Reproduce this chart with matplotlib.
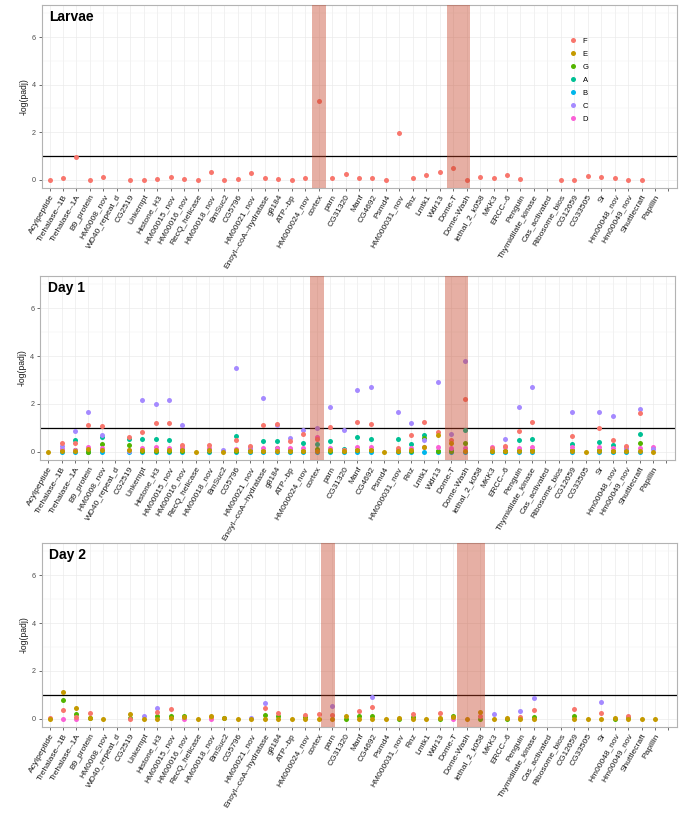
import matplotlib
matplotlib.use('Agg')
import matplotlib.pyplot as plt
from matplotlib.lines import Line2D
import numpy as np

plt.rcParams['font.family'] = ['Liberation Sans', 'DejaVu Sans']

genes = ["Acylpeptide", "Trehalase--1B", "Trehalase--1A", "B9_protein", "HM0008_nov",
         "WD40_repeat_d", "CG2519", "Unkempt", "Histone_H3", "HM00015_nov",
         "HM00016_nov", "RecQ_helicase", "HM00018_nov", "BmSuc2", "CG5796",
         "HM00021_nov", "Enoyl--coA--hydratase", "g8184", "ATP--bp", "HM000024_nov",
         "cortex", "parn", "CG31320", "Manf", "CG4692", "Psmd4", "HM000031_nov",
         "Rnz", "Lmtk1", "Wdr13", "Dome-T", "Dome-Wash", "lethal_2_k058", "MKK3",
         "ERCC--6", "Penguin", "Thymidilate_kinase", "Cas_activated", "Ribosome_bios",
         "CG12659", "CG33505", "Sr", "Hm00048_nov", "Hm00049_nov", "Shuttlecraft",
         "Papillin", ""]

groups = ["F", "E", "G", "A", "B", "C", "D"]
group_colors = ["#F8766D", "#C49A00", "#53B400", "#00C094", "#00B6EB", "#A58AFF", "#FB61D7"]
draw_order = ["B", "A", "G", "D", "C", "F", "E"]

N = None
# ---- Larvae ----
larvae_F = [0.0, 0.08, 0.96, 0.0, 0.1, N, 0.0, 0.0, 0.04, 0.1,
            0.04, 0.0, 0.32, 0.0, 0.03, 0.27, 0.08, 0.04, 0.0, 0.08,
            3.33, 0.07, 0.24, 0.08, 0.08, 0.0, 1.98, 0.06, 0.2, 0.32,
            0.5, 0.0, 0.1, 0.06, 0.18, 0.03, N, N, 0.0, 0.0,
            0.14, 0.13, 0.06, 0.0, 0.0, N]

# ---- Day 1 ----
day1_F = [N, 0.35, 0.38, 1.12, 1.07, N, 0.6, 0.84, 1.19, 1.18,
          0.28, N, 0.26, N, 0.49, 0.25, 1.12, 1.14, 0.45, 0.74,
          0.52, 1.05, 0.05, 1.26, 1.16, N, 0.14, 0.68, 1.26, 0.82,
          0.47, 2.2, N, 0.15, 0.25, 0.85, 1.24, N, N, 0.67,
          N, 1.0, 0.5, 0.22, 1.62, N]
day1_C = [N, 0.22, 0.85, 1.66, 0.69, N, 0.03, 2.18, 1.98, 2.16,
          1.1, N, 0.08, 0.08, 3.5, 0.18, 2.26, 1.12, 0.57, 0.9,
          0.98, 1.86, 0.89, 2.59, 2.69, N, 1.67, 1.19, 0.47, 2.91,
          0.74, 3.81, N, 0.05, 0.52, 1.85, 2.7, N, N, 1.66,
          N, 1.65, 1.49, 0.1, 1.79, 0.1]
day1_A = [N, 0.08, 0.5, 0.02, 0.6, N, 0.52, 0.53, 0.52, 0.49,
          0.1, N, 0.07, N, 0.64, 0.07, 0.43, 0.44, 0.09, 0.37,
          0.33, 0.45, 0.11, 0.61, 0.53, N, 0.53, 0.33, 0.68, 0.02,
          0.05, 0.91, N, 0.02, 0.03, 0.5, 0.54, N, N, 0.32,
          N, 0.4, 0.26, 0.04, 0.73, N]
day1_G = [N, 0.05, 0.06, 0.0, 0.34, N, 0.26, 0.02, 0.02, 0.02,
          0.02, N, 0.02, N, 0.02, 0.02, 0.03, 0.15, 0.02, 0.03,
          0.1, 0.03, 0.03, 0.07, 0.05, N, 0.03, 0.02, 0.57, 0.02,
          0.03, 0.36, N, 0.03, 0.03, 0.05, 0.06, N, N, 0.05,
          N, 0.05, 0.04, 0.08, 0.38, N]
day1_D = [N, 0.12, 0.05, 0.18, 0.15, N, 0.07, 0.17, 0.18, 0.17,
          0.18, N, 0.16, N, 0.1, 0.15, 0.16, 0.17, 0.16, 0.14,
          0.62, 0.16, 0.05, 0.18, 0.18, N, 0.1, 0.15, 0.18, 0.18,
          0.15, 0.15, N, 0.18, 0.18, 0.15, 0.18, N, N, 0.18,
          N, 0.18, 0.15, 0.15, 0.15, 0.18]
day1_B = [N, 0.0, 0.0, 0.0, 0.0, N, 0.0, 0.0, 0.0, 0.0,
          0.0, N, 0.0, N, 0.0, 0.0, 0.0, 0.0, 0.0, 0.0,
          0.0, 0.0, 0.0, 0.0, 0.0, N, 0.0, 0.0, 0.0, 0.0,
          0.0, 0.0, N, 0.0, 0.0, 0.0, 0.0, N, N, 0.0,
          N, 0.0, 0.0, 0.0, 0.0, N]
day1_E = [0.0, 0.03, 0.02, 0.1, 0.07, N, 0.07, 0.05, 0.07, 0.08,
          0.07, 0.0, 0.07, 0.0, 0.07, 0.02, 0.02, 0.02, 0.02, 0.03,
          0.02, 0.07, 0.04, 0.07, 0.07, 0.0, 0.02, 0.07, 0.2, 0.68,
          0.35, 0.02, N, 0.02, 0.02, 0.02, 0.02, N, N, 0.02,
          0.0, 0.02, 0.02, 0.02, 0.02, 0.0]

# ---- Day 2 ----
day2_E = [0.0, 1.13, 0.45, 0.03, 0.0, N, 0.2, 0.0, 0.0, 0.03,
          0.07, 0.0, 0.1, 0.03, 0.0, 0.0, 0.0, 0.0, 0.0, 0.0,
          0.0, 0.0, 0.1, 0.0, 0.0, 0.0, 0.04, 0.0, 0.0, 0.03,
          0.07, 0.0, 0.28, 0.0, 0.03, 0.0, 0.0, N, N, 0.0,
          0.0, 0.0, 0.03, 0.0, 0.0, 0.0]
day2_G = [N, 0.78, 0.18, 0.03, N, N, 0.03, N, 0.1, 0.11,
          0.1, N, N, 0.03, N, N, 0.15, 0.12, N, 0.07,
          N, N, 0.0, 0.1, 0.13, N, 0.0, 0.07, N, 0.0,
          0.11, N, 0.0, N, 0.0, N, 0.05, N, N, 0.11,
          N, N, 0.0, 0.07, N, N]
day2_F = [0.03, 0.38, 0.07, 0.24, N, N, 0.0, N, 0.28, 0.39,
          N, N, 0.07, N, N, N, 0.46, 0.22, N, 0.17,
          0.2, 0.14, N, 0.33, 0.5, N, N, 0.2, N, 0.22,
          N, N, 0.1, N, N, 0.05, 0.36, N, N, 0.4,
          N, 0.24, N, 0.11, N, N]
day2_C = [N, N, N, N, N, N, N, 0.11, 0.43, N,
          N, N, N, N, N, 0.04, 0.67, N, N, N,
          N, 0.52, N, N, 0.91, N, N, N, N, N,
          N, N, N, 0.18, N, 0.33, 0.88, N, N, N,
          N, 0.71, N, N, N, N]
day2_D = [N, 0.0, 0.0, N, N, N, N, N, N, N,
          0.0, N, 0.0, N, N, N, N, N, N, N,
          N, N, N, N, N, N, N, N, N, N,
          0.0, N, N, N, N, N, N, N, N, N,
          N, N, N, N, N, N]

panels = [
    ("Larvae", {"F": larvae_F}),
    ("Day 1", {"F": day1_F, "C": day1_C, "A": day1_A, "G": day1_G,
               "D": day1_D, "B": day1_B, "E": day1_E}),
    ("Day 2", {"E": day2_E, "G": day2_G, "F": day2_F, "C": day2_C, "D": day2_D}),
]
highlights = [
    [(20.48, 21.52), (30.52, 32.27)],
    [(20.48, 21.52), (30.52, 32.27)],
    [(21.18, 22.25), (31.28, 33.36)],
]
# axes rectangles in pixels: left, right, top, bottom
W, H = 682, 816
rects = [(41.5, 676.5, 5, 188), (40, 674.5, 276, 460), (41.5, 676.5, 543, 727)]

color_of = dict(zip(groups, group_colors))

fig = plt.figure(figsize=(W / 100, H / 100), dpi=100)
xs = np.arange(1, len(genes) + 1)
MS = 3.6

for (title, data), hl, (l, r, t, b) in zip(panels, highlights, rects):
    ax = fig.add_axes([l / W, 1 - b / H, (r - l) / W, (b - t) / H])
    ax.set_xlim(0.4, len(genes) + 0.6)
    ax.set_ylim(-0.35, 7.35)
    ax.set_axisbelow(True)
    ax.set_xticks(xs)
    ax.set_xticklabels(genes, rotation=60, ha='right', va='top',
                       rotation_mode='anchor', fontsize=6, color='#1a1a1a')
    ax.set_yticks([0, 2, 4, 6])
    ax.set_yticks([1, 3, 5, 7], minor=True)
    ax.tick_params(axis='y', labelsize=5.2, labelcolor='#4d4d4d', length=2.5,
                   width=0.5, color='#333333', pad=1.5)
    ax.tick_params(axis='y', which='minor', length=0)
    ax.tick_params(axis='x', length=2.5, width=0.5, color='#333333', pad=1.5)
    ax.grid(which='major', color='#ebebeb', lw=0.5)
    ax.grid(which='minor', axis='y', color='#f2f2f2', lw=0.35)
    for sp in ax.spines.values():
        sp.set_color('#b3b3b3')
        sp.set_linewidth(0.8)
    ax.set_ylabel('-log(padj)', fontsize=6.2, color='#1a1a1a', labelpad=2.5)

    ax.axhline(1, color='black', lw=0.9, zorder=2)
    for g in draw_order:
        if g not in data:
            continue
        vals = data[g]
        px = [x for x, v in zip(xs, vals) if v is not None]
        py = [v for v in vals if v is not None]
        ax.plot(px, py, 'o', color=color_of[g], markersize=MS,
                markeredgewidth=0, zorder=3)
    for (x0, x1) in hl:
        ax.axvspan(x0, x1, color='#C44226', alpha=0.42, lw=0, zorder=4)

    ax.text(0.012, 0.972, title, transform=ax.transAxes, fontsize=10,
            fontweight='bold', ha='left', va='top', zorder=5)

    if title == "Larvae":
        handles = [Line2D([], [], marker='o', ls='', color=c, markersize=MS,
                          markeredgewidth=0) for c in group_colors]
        ax.legend(handles, groups, frameon=False, fontsize=5.5,
                  loc='upper left', bbox_to_anchor=(568.9 / W, 1 - 37.2 / H),
                  bbox_transform=fig.transFigure, borderpad=0,
                  handlelength=1.0, handletextpad=0.8, labelspacing=0.75,
                  borderaxespad=0)

fig.savefig('out.png', dpi=100)
